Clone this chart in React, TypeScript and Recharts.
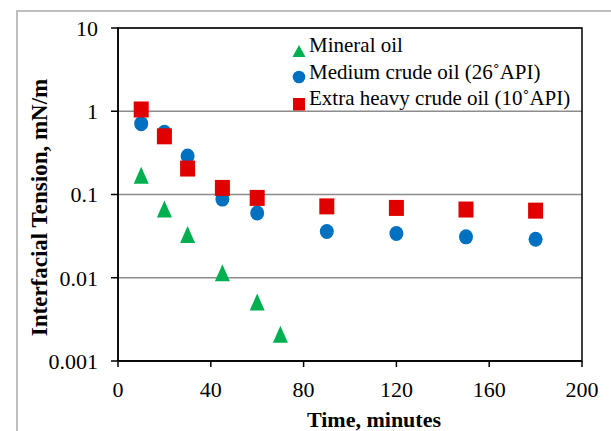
import React from 'react';
import {
  ScatterChart,
  Scatter,
  XAxis,
  YAxis,
  CartesianGrid,
  ReferenceArea,
  Legend,
} from 'recharts';

// ---------- data ----------
const timeMineral = [10, 20, 30, 45, 60, 70];
const iftMineral = [0.17, 0.067, 0.033, 0.0115, 0.0051, 0.0021];

const timeCrude = [10, 20, 30, 45, 60, 90, 120, 150, 180];
const iftMedium = [0.71, 0.56, 0.29, 0.088, 0.06, 0.036, 0.034, 0.031, 0.029];
const iftHeavy = [1.05, 0.5, 0.205, 0.12, 0.091, 0.072, 0.069, 0.066, 0.064];

const seriesNames = [
  'Mineral oil',
  'Medium crude oil (26˚API)',
  'Extra heavy crude oil (10˚API)',
];

const xTicks = [0, 40, 80, 120, 160, 200];
const yTicks = [0.001, 0.01, 0.1, 1, 10];
const yTickLabels = ['0.001', '0.01', '0.1', '1', '10'];

const mineralData = timeMineral.map((x, i) => ({ x, y: iftMineral[i] }));
const mediumData = timeCrude.map((x, i) => ({ x, y: iftMedium[i] }));
const heavyData = timeCrude.map((x, i) => ({ x, y: iftHeavy[i] }));

// ---------- styles ----------
const GREEN = '#00b050';
const BLUE = '#0070c0';
const RED = '#e00000';
const FONT = '"Liberation Serif", "Times New Roman", serif';

const Triangle = (props: any) => {
  const { cx, cy } = props;
  if (cx == null || cy == null) return null;
  const w = 15;
  const h = 17;
  return (
    <polygon
      points={`${cx},${cy - h / 2} ${cx + w / 2},${cy + h / 2} ${cx - w / 2},${cy + h / 2}`}
      fill={GREEN}
    />
  );
};

const Circle = (props: any) => {
  const { cx, cy } = props;
  if (cx == null || cy == null) return null;
  return <ellipse cx={cx} cy={cy} rx={7} ry={7.5} fill={BLUE} />;
};

const Square = (props: any) => {
  const { cx, cy } = props;
  if (cx == null || cy == null) return null;
  return <rect x={cx - 7.5} y={cy - 8} width={15} height={16} fill={RED} />;
};

const legendIcons = [
  <svg width={14} height={14} key="t">
    <polygon points="7,1 13.5,13 0.5,13" fill={GREEN} />
  </svg>,
  <svg width={14} height={14} key="c">
    <circle cx={7} cy={7} r={6.3} fill={BLUE} />
  </svg>,
  <svg width={14} height={14} key="s">
    <rect x={1} y={1} width={12} height={12.5} fill={RED} />
  </svg>,
];

const renderLegend = () => (
  <div style={{ fontFamily: FONT, fontSize: 21, color: '#000' }}>
    {seriesNames.map((name, i) => (
      <div
        key={name}
        style={{
          display: 'flex',
          alignItems: 'center',
          height: 26.5,
          lineHeight: '26.5px',
          whiteSpace: 'nowrap',
        }}
      >
        <span style={{ display: 'inline-block', width: 14, height: 14, marginRight: 3, marginTop: -1 }}>
          {legendIcons[i]}
        </span>
        <span>{name}</span>
      </div>
    ))}
  </div>
);

const YTitle = (props: any) => {
  const vb = props.viewBox || {};
  const x = (vb.x ?? 38) + 9;
  const y = (vb.y ?? 28) + (vb.height ?? 333) / 2 + 13;
  return (
    <text
      x={x}
      y={y}
      transform={`rotate(-90, ${x}, ${y})`}
      textAnchor="middle"
      fontFamily={FONT}
      fontSize={23}
      fontWeight="bold"
      fill="#000"
    >
      Interfacial Tension, mN/m
    </text>
  );
};

const XTitle = (props: any) => {
  const vb = props.viewBox || {};
  const x = (vb.x ?? 118) + (vb.width ?? 464) / 2 + 24;
  const y = (vb.y ?? 361) + 66;
  return (
    <text x={x} y={y} textAnchor="middle" fontFamily={FONT} fontSize={22} fontWeight="bold" fill="#000">
      Time, minutes
    </text>
  );
};

const tickStyle = { fontFamily: FONT, fontSize: 22, fill: '#000' };

export default function App() {
  return (
    <div
      style={{
        position: 'absolute',
        left: 0,
        top: 0,
        width: 611,
        height: 431,
        overflow: 'hidden',
        background: '#fff',
      }}
    >
      <div
        style={{
          position: 'absolute',
          left: 16,
          top: 10,
          width: 800,
          height: 600,
          border: '2px solid #bfbfbf',
        }}
      />
      <div style={{ position: 'absolute', left: 0, top: 0 }}>
        <ScatterChart width={611} height={431} margin={{ top: 28, right: 29, bottom: 0, left: 38 }}>
          <CartesianGrid horizontal vertical={false} stroke="#8c8c8c" strokeWidth={1.5} />
          <XAxis
            type="number"
            dataKey="x"
            domain={[0, 200]}
            ticks={xTicks}
            allowDataOverflow
            height={70}
            tickSize={6}
            tickMargin={14}
            tick={tickStyle}
            stroke="#000"
            strokeWidth={1.5}
            tickLine={{ stroke: '#000', strokeWidth: 1.5 }}
            label={<XTitle />}
          />
          <YAxis
            type="number"
            dataKey="y"
            scale="log"
            domain={[0.001, 10]}
            ticks={yTicks}
            tickFormatter={(v: number) => yTickLabels[yTicks.indexOf(v)] ?? String(v)}
            allowDataOverflow
            width={80}
            tickSize={7}
            tickMargin={13}
            tick={tickStyle}
            stroke="#000"
            strokeWidth={1.5}
            tickLine={{ stroke: '#000', strokeWidth: 1.5 }}
            label={<YTitle />}
          />
          <ReferenceArea
            x1={0}
            x2={200}
            y1={0.001}
            y2={10}
            fill="none"
            fillOpacity={0}
            stroke="#000"
            strokeWidth={1.5}
            ifOverflow="visible"
          />
          <Legend
            layout="vertical"
            align="center"
            verticalAlign="middle"
            content={renderLegend}
            wrapperStyle={{ position: 'absolute', left: 292, top: 32, width: 'auto', height: 'auto' }}
          />
          <Scatter name={seriesNames[0]} data={mineralData} fill={GREEN} shape={Triangle} isAnimationActive={false} />
          <Scatter name={seriesNames[1]} data={mediumData} fill={BLUE} shape={Circle} isAnimationActive={false} />
          <Scatter name={seriesNames[2]} data={heavyData} fill={RED} shape={Square} isAnimationActive={false} />
        </ScatterChart>
      </div>
    </div>
  );
}
